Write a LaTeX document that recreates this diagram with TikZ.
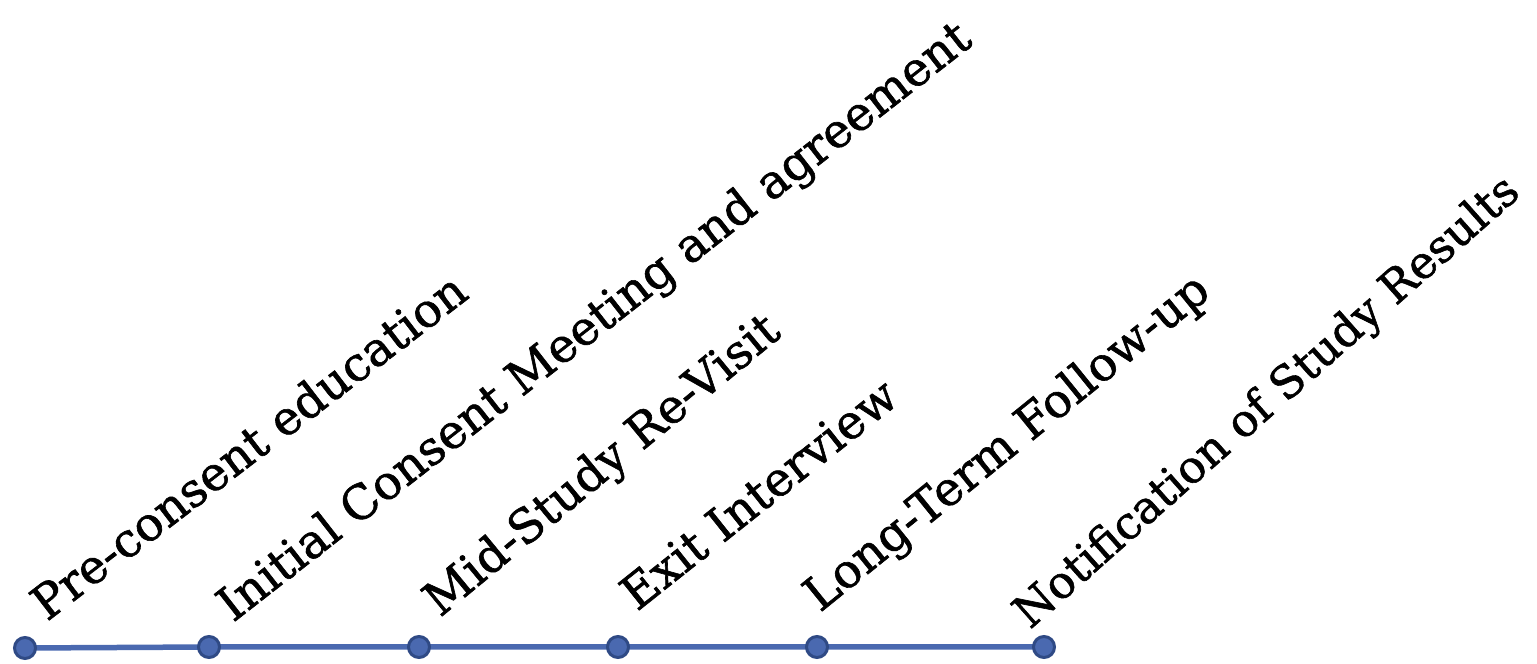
\documentclass[tikz,border=0pt]{standalone}
\usepackage{fontspec}
\setmainfont{DejaVu Serif}
\newfontfamily\lblfont{DejaVu Serif}[FakeBold=1.3]
\definecolor{dotfill}{HTML}{4A69B0}
\definecolor{dotdraw}{HTML}{2F4A85}
\definecolor{linecol}{HTML}{4A69B0}
\begin{document}
\begin{tikzpicture}[x=1pt,y=1pt,
  dot/.style={circle,fill=dotfill,draw=dotdraw,line width=3pt,minimum size=21pt,inner sep=0pt},
  lbl/.style={anchor=base west,inner sep=0pt,font=\lblfont\fontsize{47}{47}\selectfont},
  tline/.style={draw=linecol,line width=5.5pt}]
\useasboundingbox (0,0) rectangle (1537,664);
\coordinate (d1) at (25,16);
\coordinate (d2) at (209,17);
\coordinate (d3) at (419,17);
\coordinate (d4) at (618,17);
\coordinate (d5) at (817,17);
\coordinate (d6) at (1044,17);
\draw[tline] (d1) -- (d2) -- (d3) -- (d4) -- (d5) -- (d6);
\foreach \i in {1,...,6}{\node[dot] (n\i) at (d\i) {};}
\node[lbl,rotate=37.5] (t1) at (47,42) {Pre-consent education};
\node[lbl,rotate=38] (t2) at (233,41) {Initial Consent Meeting and agreement};
\node[lbl,rotate=39.5] (t3) at (440,46) {Mid-Study Re-Visit};
\node[lbl,rotate=38.5] (t4) at (637,52) {Exit Interview};
\node[lbl,rotate=39] (t5) at (820,51) {Long-Term Follow-up};
\node[lbl,rotate=41.5,font=\lblfont\fontsize{45}{45}\selectfont] (t6) at (1030,34) {Notification of Study Results};
\end{tikzpicture}
\end{document}
